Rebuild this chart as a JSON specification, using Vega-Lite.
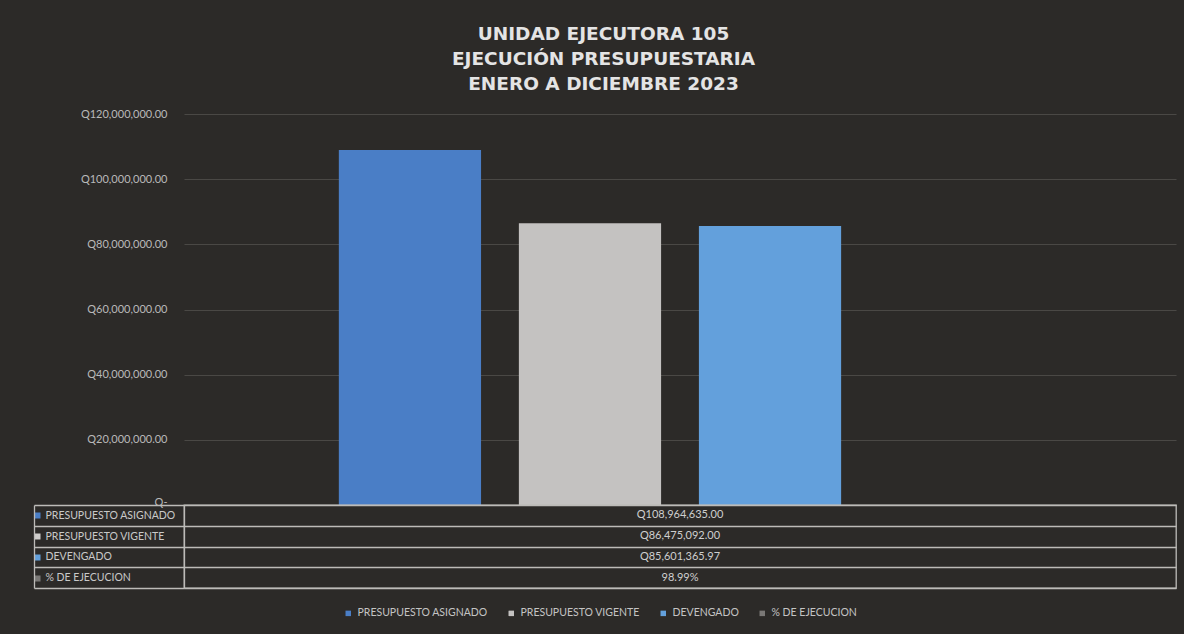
{
  "$schema": "https://vega.github.io/schema/vega-lite/v6.json",
  "background": "#2c2a28",
  "padding": {"left": 30, "top": 24, "right": 12, "bottom": 16},
  "title": {
    "text": ["UNIDAD EJECUTORA 105", "EJECUCIÓN PRESUPUESTARIA", "ENERO A DICIEMBRE 2023"],
    "font": "DejaVu Sans",
    "fontSize": 18.5,
    "fontWeight": "bold",
    "color": "#e4e4e4",
    "lineHeight": 25,
    "anchor": "middle",
    "offset": 15
  },
  "data": {
    "values": [
      {"cat": "2023", "serie": "PRESUPUESTO ASIGNADO", "valor": 108964635, "texto": "Q108,964,635.00"},
      {"cat": "2023", "serie": "PRESUPUESTO VIGENTE", "valor": 86475092, "texto": "Q86,475,092.00"},
      {"cat": "2023", "serie": "DEVENGADO", "valor": 85601365.97, "texto": "Q85,601,365.97"},
      {"cat": "2023", "serie": "% DE EJECUCION", "valor": 0.9899, "texto": "98.99%"}
    ]
  },
  "spacing": 0,
  "bounds": "flush",
  "vconcat": [
    {
      "width": 992,
      "height": 391,
      "view": {"stroke": null},
      "mark": {"type": "bar"},
      "encoding": {
        "x": {"field": "cat", "type": "nominal", "axis": null, "scale": {"paddingInner": 0, "paddingOuter": 0}},
        "xOffset": {
          "field": "serie", "type": "nominal",
          "sort": ["PRESUPUESTO ASIGNADO", "PRESUPUESTO VIGENTE", "DEVENGADO", "% DE EJECUCION"],
          "scale": {"paddingInner": 0.21, "paddingOuter": 0.86}
        },
        "y": {
          "field": "valor", "type": "quantitative",
          "scale": {"domain": [0, 120000000]},
          "axis": {
            "title": null,
            "values": [0, 20000000, 40000000, 60000000, 80000000, 100000000, 120000000],
            "labelExpr": "datum.value == 0 ? 'Q-' : 'Q' + format(datum.value, ',.2f')",
            "labelFont": "Lato",
            "labelFontSize": 11,
            "labelColor": "#b9b9b9",
            "labelPadding": 17,
            "labelBaseline": {"condition": {"test": "datum.value == 0", "value": "alphabetic"}, "value": "middle"},
            "domain": false,
            "ticks": false,
            "grid": true,
            "gridColor": "#4a4845",
            "gridWidth": 1
          }
        },
        "color": {
          "field": "serie", "type": "nominal",
          "scale": {
            "domain": ["PRESUPUESTO ASIGNADO", "PRESUPUESTO VIGENTE", "DEVENGADO", "% DE EJECUCION"],
            "range": ["#4a7ec6", "#c4c2c1", "#63a0dc", "#7a7876"]
          },
          "legend": {
            "title": null,
            "orient": "none",
            "legendX": 159,
            "legendY": 494,
            "direction": "horizontal",
            "symbolType": "square",
            "symbolSize": 30,
            "symbolStrokeWidth": 0,
            "labelFont": "Lato",
            "labelFontSize": 10.5,
            "labelColor": "#c4c4c4",
            "labelOffset": 4,
            "columnPadding": 18
          }
        }
      }
    },
    {
      "width": 992,
      "height": 83,
      "view": {"stroke": "#bdbbb8", "strokeWidth": 1.3},
      "layer": [
        {
          "mark": {"type": "text", "color": "#cfcfcf", "font": "Lato", "fontSize": 11},
          "encoding": {
            "x": {"field": "cat", "type": "nominal", "axis": null, "scale": {"paddingInner": 0, "paddingOuter": 0}},
            "y": {
              "field": "serie", "type": "nominal",
              "sort": ["PRESUPUESTO ASIGNADO", "PRESUPUESTO VIGENTE", "DEVENGADO", "% DE EJECUCION"],
              "scale": {"paddingInner": 0, "paddingOuter": 0},
              "axis": {
                "orient": "left",
                "title": null,
                "labels": false,
                "domain": true,
                "domainColor": "#bdbbb8",
                "domainWidth": 1.3,
                "ticks": true,
                "tickSize": 150,
                "tickBand": "extent",
                "tickColor": "#bdbbb8",
                "tickWidth": 1.3,
                "grid": true,
                "gridColor": "#bdbbb8",
                "gridWidth": 1.3
              }
            },
            "text": {"field": "texto"}
          }
        },
        {
          "mark": {"type": "text", "opacity": 0},
          "encoding": {
            "y": {
              "field": "serie", "type": "nominal",
              "sort": ["PRESUPUESTO ASIGNADO", "PRESUPUESTO VIGENTE", "DEVENGADO", "% DE EJECUCION"],
              "axis": {
                "orient": "left",
                "offset": 150,
                "title": null,
                "grid": false,
                "domain": true,
                "domainColor": "#bdbbb8",
                "domainWidth": 1.3,
                "ticks": true,
                "tickSize": -6,
                "tickWidth": 6,
                "tickOffset": 0,
                "tickColor": {
                  "condition": [
                    {"test": "datum.value == 'PRESUPUESTO ASIGNADO'", "value": "#4a7ec6"},
                    {"test": "datum.value == 'PRESUPUESTO VIGENTE'", "value": "#d0cecc"},
                    {"test": "datum.value == 'DEVENGADO'", "value": "#63a0dc"}
                  ],
                  "value": "#7a7876"
                },
                "labelAlign": "left",
                "labelPadding": -5,
                "labelFont": "Lato",
                "labelFontSize": 10.5,
                "labelColor": "#c9c9c9"
              }
            },
            "text": {"value": ""}
          }
        }
      ],
      "resolve": {"axis": {"y": "independent"}}
    }
  ]
}
